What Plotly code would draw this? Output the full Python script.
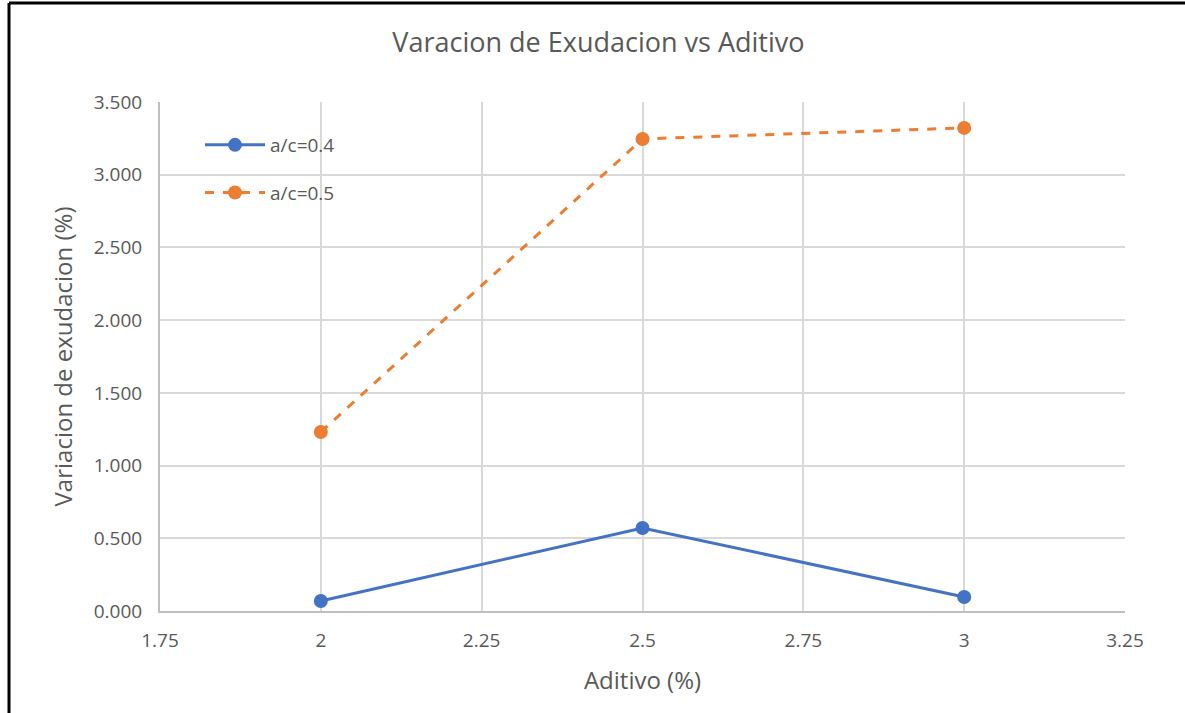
import plotly.graph_objects as go

aditivo = [2, 2.5, 3]
ac04 = [0.069, 0.571, 0.096]
ac05 = [1.231, 3.246, 3.322]
x_ticks = [1.75, 2, 2.25, 2.5, 2.75, 3, 3.25]
x_tick_labels = ["1.75", "2", "2.25", "2.5", "2.75", "3", "3.25"]
y_ticks = [0, 0.5, 1.0, 1.5, 2.0, 2.5, 3.0, 3.5]
y_tick_labels = ["0.000", "0.500", "1.000", "1.500", "2.000", "2.500", "3.000", "3.500"]

FONT = "Open Sans, Liberation Sans, sans-serif"
GRAY = "#595959"

fig = go.Figure()
fig.add_trace(go.Scatter(
    x=aditivo, y=ac04, name="a/c=0.4", mode="lines+markers",
    line=dict(color="#4472C4", width=3),
    marker=dict(size=14, color="#4472C4"),
    legendgroup="a",
))
fig.add_trace(go.Scatter(
    x=aditivo, y=ac05, name="a/c=0.5", mode="lines+markers",
    line=dict(color="#ED7D31", width=3, dash="dash"),
    marker=dict(size=14, color="#ED7D31"),
    legendgroup="b",
))

L, R, T, B = 160, 60, 102, 102
W, H = 1185, 713
pw = W - L - R
ph = H - T - B

fig.update_layout(
    width=W, height=H,
    margin=dict(l=L, r=R, t=T, b=B),
    paper_bgcolor="white", plot_bgcolor="white",
    font=dict(family=FONT, color=GRAY),
    title=dict(text="Varacion de Exudacion vs Aditivo", x=0.505, xanchor="center",
               y=1 - 43 / H, yanchor="middle", font=dict(size=27, color=GRAY)),
    showlegend=True,
    legend=dict(x=(200 - L) / pw, y=(611 - 126) / ph, xanchor="left", yanchor="top",
                bgcolor="rgba(0,0,0,0)", font=dict(size=19, color=GRAY),
                traceorder="grouped", tracegroupgap=20, itemwidth=60),
    xaxis=dict(range=[1.75, 3.25], tickvals=x_ticks, ticktext=x_tick_labels,
               showgrid=True, gridcolor="#d9d9d9", gridwidth=2,
               showline=True, linecolor="#bfbfbf", linewidth=2, mirror=False,
               zeroline=False, ticks="", tickfont=dict(size=19, color=GRAY),
               ticklabelstandoff=11,
               title=dict(text="Aditivo (%)", font=dict(size=24, color=GRAY), standoff=20)),
    yaxis=dict(range=[0, 3.5], tickvals=y_ticks, ticktext=y_tick_labels,
               showgrid=True, gridcolor="#d9d9d9", gridwidth=2,
               showline=True, linecolor="#bfbfbf", linewidth=2,
               zeroline=False, ticks="", tickfont=dict(size=19, color=GRAY),
               ticklabelstandoff=12,
               title=dict(text="Variacion de exudacion (%)", font=dict(size=24, color=GRAY), standoff=14)),
)

# outer frame (top and left black border of the image)
fig.add_shape(type="line", xref="paper", yref="paper",
              x0=(9 - L) / pw, x1=(W + 5 - L) / pw, y0=(H - B - 3) / ph, y1=(H - B - 3) / ph,
              line=dict(color="black", width=3))
fig.add_shape(type="line", xref="paper", yref="paper",
              x0=(9 - L) / pw, x1=(9 - L) / pw, y0=(H - B - 3) / ph, y1=(-10 - B) / ph,
              line=dict(color="black", width=3))

fig.write_html("out.html")
